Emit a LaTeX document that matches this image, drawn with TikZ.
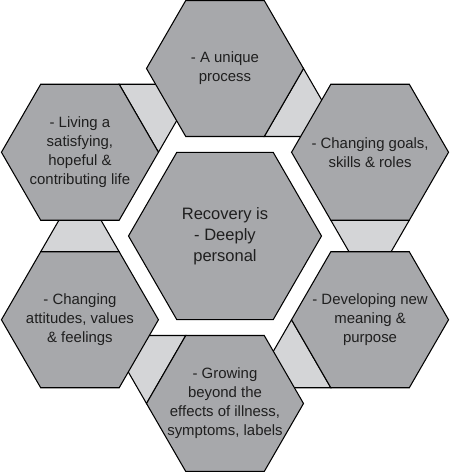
\documentclass[tikz,border=0pt]{standalone}
\usepackage{fontspec}
\setmainfont{Liberation Sans}
\usepackage{tikz}
\usetikzlibrary{shapes.geometric, backgrounds}

\definecolor{hexgray}{RGB}{167,168,171}
\definecolor{linkgray}{RGB}{212,213,215}

\tikzset{
  hexcell/.style={regular polygon, regular polygon sides=6, minimum size=3.14cm, inner sep=0pt, outer sep=0pt, draw=black, fill=hexgray, line width=0.6pt},
  corecell/.style={hexcell, minimum size=3.86cm},
  hextext/.style={align=center, text=black!88, font=\fontsize{8.5}{10.8}\selectfont},
  coretext/.style={hextext, font=\fontsize{9.4}{11.8}\selectfont},
  link/.style={draw=black, fill=linkgray, line width=0.6pt}
}
\newcommand{\ring}{3.35}
\newcommand{\gap}{0.75}

\begin{document}
\begin{tikzpicture}
    \useasboundingbox (-4.5,-4.72) rectangle (4.5,4.72);

    % Hexagono central
    \node[corecell, label={[coretext]center:{Recovery is\\- Deeply\\personal}}] (core) at (0,0) {};

    % Hexagonos exteriores
    \node[hexcell, label={[hextext]center:{- A unique\\process}}] (top) at (90:\ring) {};
    \node[hexcell, label={[hextext]center:{- Changing goals,\\skills \& roles}}] (tr) at (30:\ring) {};
    \node[hexcell, label={[hextext]center:{- Developing new\\meaning \&\\purpose}}] (br) at (-30:\ring) {};
    \node[hexcell, label={[hextext]center:{- Growing\\beyond the\\effects of illness,\\symptoms, labels}}] (bot) at (-90:\ring) {};
    \node[hexcell, label={[hextext]center:{- Changing\\attitudes, values\\\& feelings}}] (bl) at (-150:\ring) {};
    \node[hexcell, label={[hextext]center:{- Living a\\satisfying,\\hopeful \&\\contributing life}}] (tl) at (150:\ring) {};

    % Enlaces claros entre hexagonos vecinos
    \begin{scope}[on background layer]
        \foreach \h/\i/\j/\n in {top/6/5/-30, tr/5/4/-90, br/4/3/-150, bot/3/2/150, bl/2/1/90, tl/1/6/30} {
            \filldraw[link] (\h.corner \i) -- ++(\n-30:\gap)
                -- ([shift={(\n+30:\gap)}]\h.corner \j) -- (\h.corner \j) -- cycle;
        }
    \end{scope}

\end{tikzpicture}
\end{document}
